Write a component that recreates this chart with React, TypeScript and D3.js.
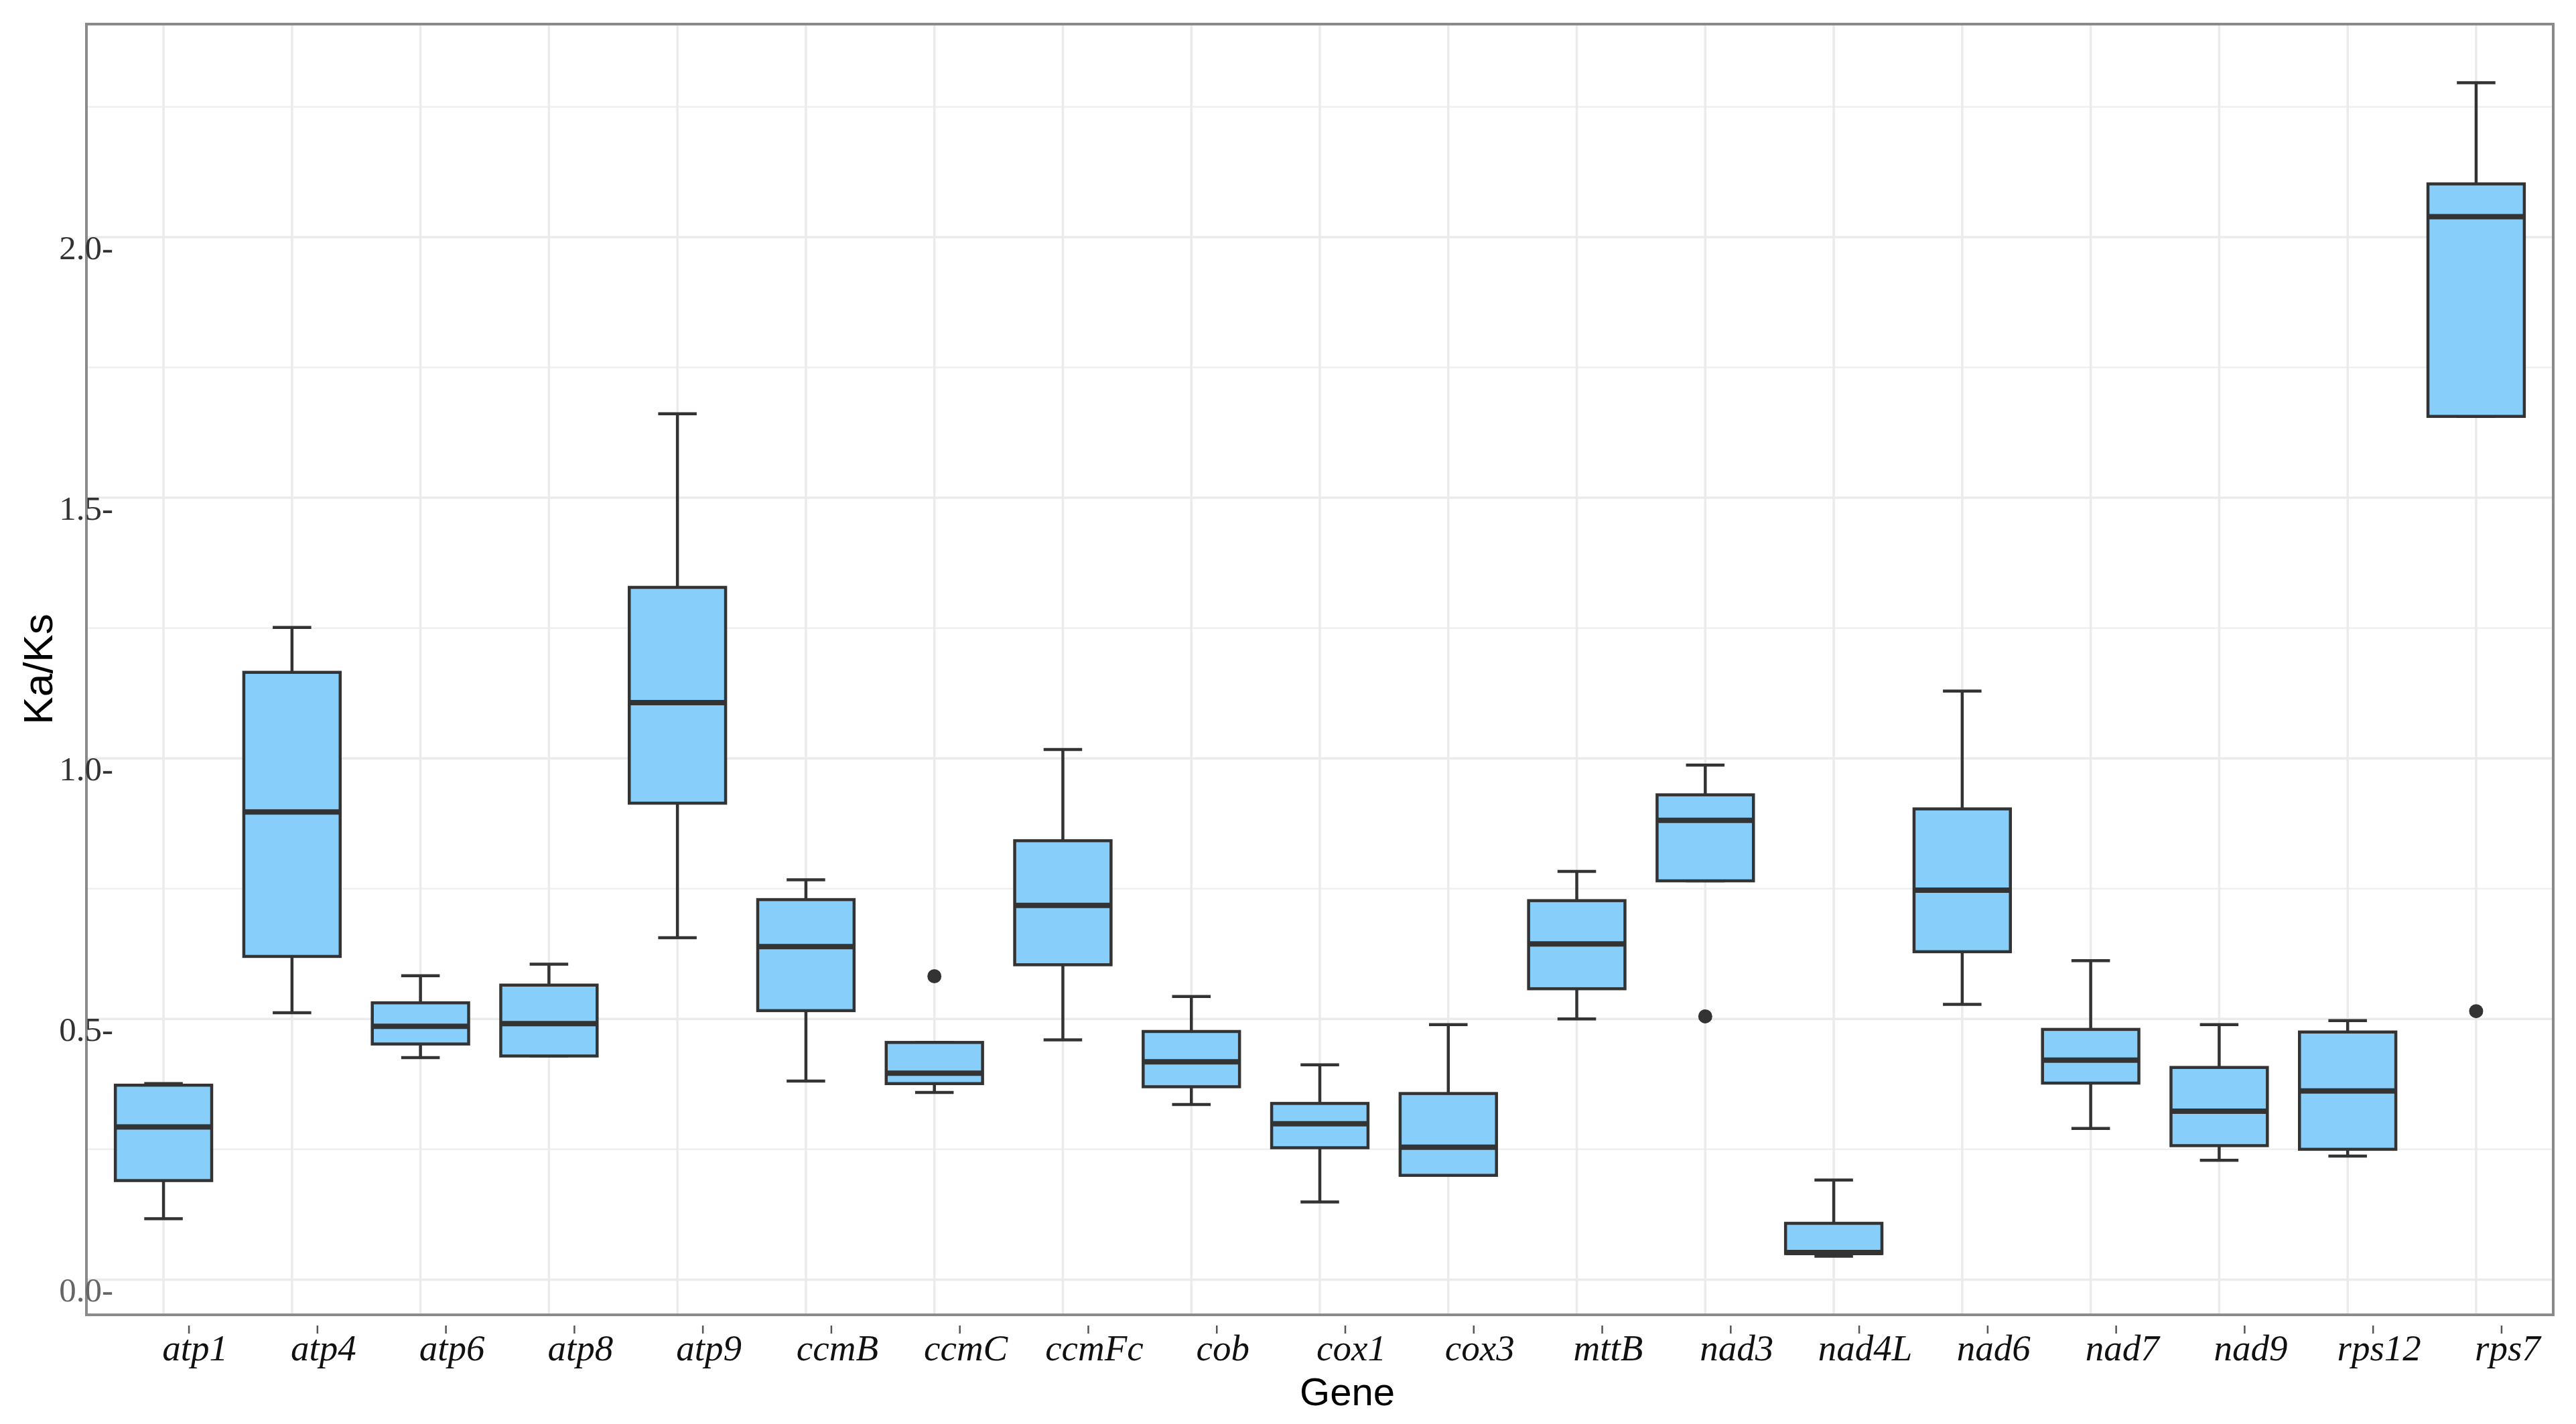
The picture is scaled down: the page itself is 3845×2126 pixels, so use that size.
import * as d3 from "d3";
import React, { useEffect, useRef } from "react";

// Ka/Ks per gene
const genes = [
  "atp1", "atp4", "atp6", "atp8", "atp9", "ccmB", "ccmC", "ccmFc", "cob", "cox1",
  "cox3", "mttB", "nad3", "nad4L", "nad6", "nad7", "nad9", "rps12", "rps7",
];
const whiskerLow = [0.117, 0.512, 0.426, 0.429, 0.656, 0.381, 0.359, 0.46, 0.336, 0.149, 0.2, 0.5, 0.765, 0.045, 0.528, 0.29, 0.229, 0.237, 1.656];
const q1 = [0.19, 0.62, 0.452, 0.429, 0.914, 0.516, 0.376, 0.604, 0.37, 0.253, 0.2, 0.558, 0.765, 0.05, 0.629, 0.377, 0.257, 0.25, 1.656];
const median = [0.293, 0.897, 0.486, 0.491, 1.107, 0.639, 0.396, 0.718, 0.418, 0.299, 0.254, 0.644, 0.881, 0.052, 0.747, 0.421, 0.323, 0.362, 2.039];
const q3 = [0.373, 1.165, 0.531, 0.565, 1.328, 0.729, 0.455, 0.842, 0.476, 0.338, 0.357, 0.727, 0.93, 0.108, 0.903, 0.48, 0.407, 0.475, 2.102];
const whiskerHigh = [0.376, 1.251, 0.583, 0.605, 1.661, 0.767, 0.455, 1.017, 0.543, 0.412, 0.489, 0.783, 0.987, 0.191, 1.129, 0.612, 0.489, 0.497, 2.296];
const outlierGenes = ["ccmC", "nad3", "rps7"];
const outlierValues = [0.582, 0.505, 0.515];
const yTicks = [0, 0.5, 1, 1.5, 2];
const yMinorTicks = [0.25, 0.75, 1.25, 1.75, 2.25];

const W = 3845;
const H = 2126;

export default function App() {
  const ref = useRef<SVGSVGElement>(null);

  useEffect(() => {
    const svg = d3.select(ref.current);
    svg.selectAll("*").remove();

    const margin = { top: 36, right: W - 3811, bottom: H - 1963, left: 129 };
    const width = W - margin.left - margin.right;
    const height = H - margin.top - margin.bottom;

    const data = genes.map((g, i) => ({
      gene: g,
      lo: whiskerLow[i],
      q1: q1[i],
      med: median[i],
      q3: q3[i],
      hi: whiskerHigh[i],
    }));
    const outliers = outlierGenes.map((g, i) => ({ gene: g, value: outlierValues[i] }));

    // ggplot-like expansion: 5% continuous, 0.6 units discrete
    const all = [...whiskerLow, ...whiskerHigh, ...outlierValues];
    const lo = d3.min(all) as number;
    const hi = d3.max(all) as number;
    const pad = (hi - lo) * 0.05;

    const x = d3.scalePoint<string>().domain(genes).range([0, width]).padding(0.6);
    const step = x.step();
    const y = d3.scaleLinear().domain([lo - pad, hi + pad]).range([height, 0]);

    svg.append("rect").attr("width", W).attr("height", H).attr("fill", "#fff");

    const main = svg.append("g").attr("transform", `translate(${margin.left},${margin.top})`);

    // grid
    main
      .selectAll(".minor")
      .data(yMinorTicks)
      .join("line")
      .attr("x1", 0)
      .attr("x2", width)
      .attr("y1", (d) => y(d))
      .attr("y2", (d) => y(d))
      .attr("stroke", "#efefef")
      .attr("stroke-width", 2.5);
    main
      .selectAll(".major-y")
      .data(yTicks)
      .join("line")
      .attr("x1", 0)
      .attr("x2", width)
      .attr("y1", (d) => y(d))
      .attr("y2", (d) => y(d))
      .attr("stroke", "#ebebeb")
      .attr("stroke-width", 3.5);
    main
      .selectAll(".major-x")
      .data(genes)
      .join("line")
      .attr("x1", (d) => x(d) as number)
      .attr("x2", (d) => x(d) as number)
      .attr("y1", 0)
      .attr("y2", height)
      .attr("stroke", "#ebebeb")
      .attr("stroke-width", 3.5);

    const stroke = "#333333";
    const boxW = step * 0.75;
    const capW = step * 0.3;

    const boxes = main.selectAll(".box").data(data).join("g");
    // whiskers
    boxes
      .append("line")
      .attr("x1", (d) => x(d.gene) as number)
      .attr("x2", (d) => x(d.gene) as number)
      .attr("y1", (d) => y(d.hi))
      .attr("y2", (d) => y(d.q3))
      .attr("stroke", stroke)
      .attr("stroke-width", 4.5);
    boxes
      .append("line")
      .attr("x1", (d) => x(d.gene) as number)
      .attr("x2", (d) => x(d.gene) as number)
      .attr("y1", (d) => y(d.q1))
      .attr("y2", (d) => y(d.lo))
      .attr("stroke", stroke)
      .attr("stroke-width", 4.5);
    // caps
    boxes
      .selectAll(".cap")
      .data((d) => [d.lo, d.hi].map((v) => ({ gene: d.gene, v })))
      .join("line")
      .attr("x1", (d) => (x(d.gene) as number) - capW / 2)
      .attr("x2", (d) => (x(d.gene) as number) + capW / 2)
      .attr("y1", (d) => y(d.v))
      .attr("y2", (d) => y(d.v))
      .attr("stroke", stroke)
      .attr("stroke-width", 4.5);
    boxes
      .append("rect")
      .attr("x", (d) => (x(d.gene) as number) - boxW / 2)
      .attr("width", boxW)
      .attr("y", (d) => y(d.q3))
      .attr("height", (d) => y(d.q1) - y(d.q3))
      .attr("fill", "#87CEFA")
      .attr("stroke", stroke)
      .attr("stroke-width", 4.5);
    boxes
      .append("line")
      .attr("x1", (d) => (x(d.gene) as number) - boxW / 2)
      .attr("x2", (d) => (x(d.gene) as number) + boxW / 2)
      .attr("y1", (d) => y(d.med))
      .attr("y2", (d) => y(d.med))
      .attr("stroke", stroke)
      .attr("stroke-width", 8);

    main
      .selectAll(".outlier")
      .data(outliers)
      .join("circle")
      .attr("cx", (d) => x(d.gene) as number)
      .attr("cy", (d) => y(d.value))
      .attr("r", 10.5)
      .attr("fill", stroke);

    // panel border
    main
      .append("rect")
      .attr("width", width)
      .attr("height", height)
      .attr("fill", "none")
      .attr("stroke", "#8a8a8a")
      .attr("stroke-width", 4);

    // y tick labels (the tick mark is a trailing dash, set a little low)
    main
      .selectAll(".ylab")
      .data(yTicks)
      .join("text")
      .attr("x", 40)
      .attr("y", (d) => y(d) + 33)
      .attr("text-anchor", "end")
      .attr("font-family", "'Liberation Serif', 'Times New Roman', serif")
      .attr("font-size", 51)
      .attr("fill", (d) => (d === 0 ? "#666" : "#333"))
      .text((d) => `${d.toFixed(1)}-`);

    // x ticks and italic gene labels, shifted right of the boxes
    main
      .selectAll(".xtick")
      .data(genes)
      .join("line")
      .attr("x1", (d) => (x(d) as number) + 38)
      .attr("x2", (d) => (x(d) as number) + 38)
      .attr("y1", height + 16)
      .attr("y2", height + 28)
      .attr("stroke", "#555")
      .attr("stroke-width", 2.5);
    main
      .selectAll(".xlab")
      .data(genes)
      .join("text")
      .attr("x", (d) => (x(d) as number) + 47)
      .attr("y", height + 68)
      .attr("text-anchor", "middle")
      .attr("font-family", "'Liberation Serif', 'Times New Roman', serif")
      .attr("font-style", "italic")
      .attr("font-size", 55)
      .attr("fill", "#111")
      .text((d) => d);

    svg
      .append("text")
      .attr("x", 2011)
      .attr("y", 2098)
      .attr("text-anchor", "middle")
      .attr("font-family", "'Liberation Sans', Arial, sans-serif")
      .attr("font-size", 58)
      .attr("fill", "#000")
      .text("Gene");

    svg
      .append("text")
      .attr("transform", `translate(78, 999) rotate(-90)`)
      .attr("text-anchor", "middle")
      .attr("font-family", "'Liberation Sans', Arial, sans-serif")
      .attr("font-size", 62)
      .attr("fill", "#000")
      .text("Ka/Ks");
  }, []);

  return (
    <div style={{ position: "absolute", left: 0, top: 0 }}>
      <svg ref={ref} width={W} height={H} style={{ display: "block" }} />
    </div>
  );
}
